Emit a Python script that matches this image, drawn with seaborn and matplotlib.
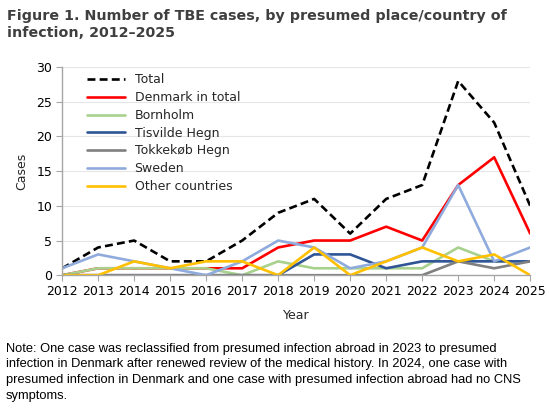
import pandas as pd
import matplotlib.pyplot as plt
import seaborn as sns

# Data
years = list(range(2012, 2026))
total = [1, 4, 5, 2, 2, 5, 9, 11, 6, 11, 13, 28, 22, 10]
denmark = [0, 1, 1, 1, 1, 1, 4, 5, 5, 7, 5, 13, 17, 6]
bornholm = [0, 1, 1, 1, 1, 0, 2, 1, 1, 1, 1, 4, 2, 2]
tisvilde = [0, 0, 0, 0, 0, 0, 0, 3, 3, 1, 2, 2, 2, 2]
tokkekob = [0, 0, 0, 0, 0, 0, 0, 0, 0, 0, 0, 2, 1, 2]
sweden = [1, 3, 2, 1, 0, 2, 5, 4, 1, 2, 4, 13, 2, 4]
other = [0, 0, 2, 1, 2, 2, 0, 4, 0, 2, 4, 2, 3, 0]

series = {
    'Total': total,
    'Denmark in total': denmark,
    'Bornholm': bornholm,
    'Tisvilde Hegn': tisvilde,
    'Tokkekøb Hegn': tokkekob,
    'Sweden': sweden,
    'Other countries': other,
}
colors = {
    'Total': '#000000',
    'Denmark in total': '#FF0000',
    'Bornholm': '#A9D18E',
    'Tisvilde Hegn': '#2F5597',
    'Tokkekøb Hegn': '#7F7F7F',
    'Sweden': '#8FAADC',
    'Other countries': '#FFC000',
}

df = pd.DataFrame([
    {'Year': y, 'Cases': v, 'Series': name}
    for name, vals in series.items() for y, v in zip(years, vals)
])

sns.set_style('white')
plt.rcParams['font.family'] = ['DejaVu Sans']

fig = plt.figure(figsize=(5.5, 4.17), dpi=100)
ax = fig.add_axes([0.113, 0.340, 0.851, 0.499])

for name in series:
    sub = df[df['Series'] == name]
    sns.lineplot(data=sub, x='Year', y='Cases', ax=ax, color=colors[name],
                 linewidth=1.9, label=name,
                 linestyle=(0, (3, 1.6)) if name == 'Total' else '-')

ax.set_xlim(2012, 2025)
ax.set_ylim(0, 30)
ax.set_xticks(years)
ax.set_yticks(range(0, 31, 5))
ax.grid(axis='y', color='#E6E6E6', linewidth=0.8)
ax.set_axisbelow(True)
for s in ['top', 'right']:
    ax.spines[s].set_visible(False)
for s in ['left', 'bottom']:
    ax.spines[s].set_color('#A6A6A6')
    ax.spines[s].set_linewidth(1.0)
ax.tick_params(axis='both', which='both', length=4, color='#A6A6A6',
               labelsize=9, labelcolor='#000000', pad=3, direction='out')
ax.tick_params(axis='x', bottom=True)
ax.tick_params(axis='y', left=True)
ax.set_xlabel('Year', fontsize=9, labelpad=8)
ax.set_ylabel('Cases', fontsize=9, labelpad=6)

ax.legend(loc='upper left', bbox_to_anchor=(0.04, 1.0), frameon=False,
          fontsize=9, handlelength=3.0, labelspacing=0.38, borderaxespad=0.1)

fig.text(0.012, 0.978, 'Figure 1. Number of TBE cases, by presumed place/country of\ninfection, 2012–2025',
         ha='left', va='top', fontsize=10.3, fontweight='bold', color='#3F3F3F',
         linespacing=1.3)

fig.text(0.010, 0.178,
         'Note: One case was reclassified from presumed infection abroad in 2023 to presumed\n'
         'infection in Denmark after renewed review of the medical history. In 2024, one case with\n'
         'presumed infection in Denmark and one case with presumed infection abroad had no CNS\n'
         'symptoms.',
         ha='left', va='top', fontsize=9.3, color='#000000', linespacing=1.4,
         family=['Liberation Sans', 'DejaVu Sans'])

fig.savefig('out.png', dpi=100)
